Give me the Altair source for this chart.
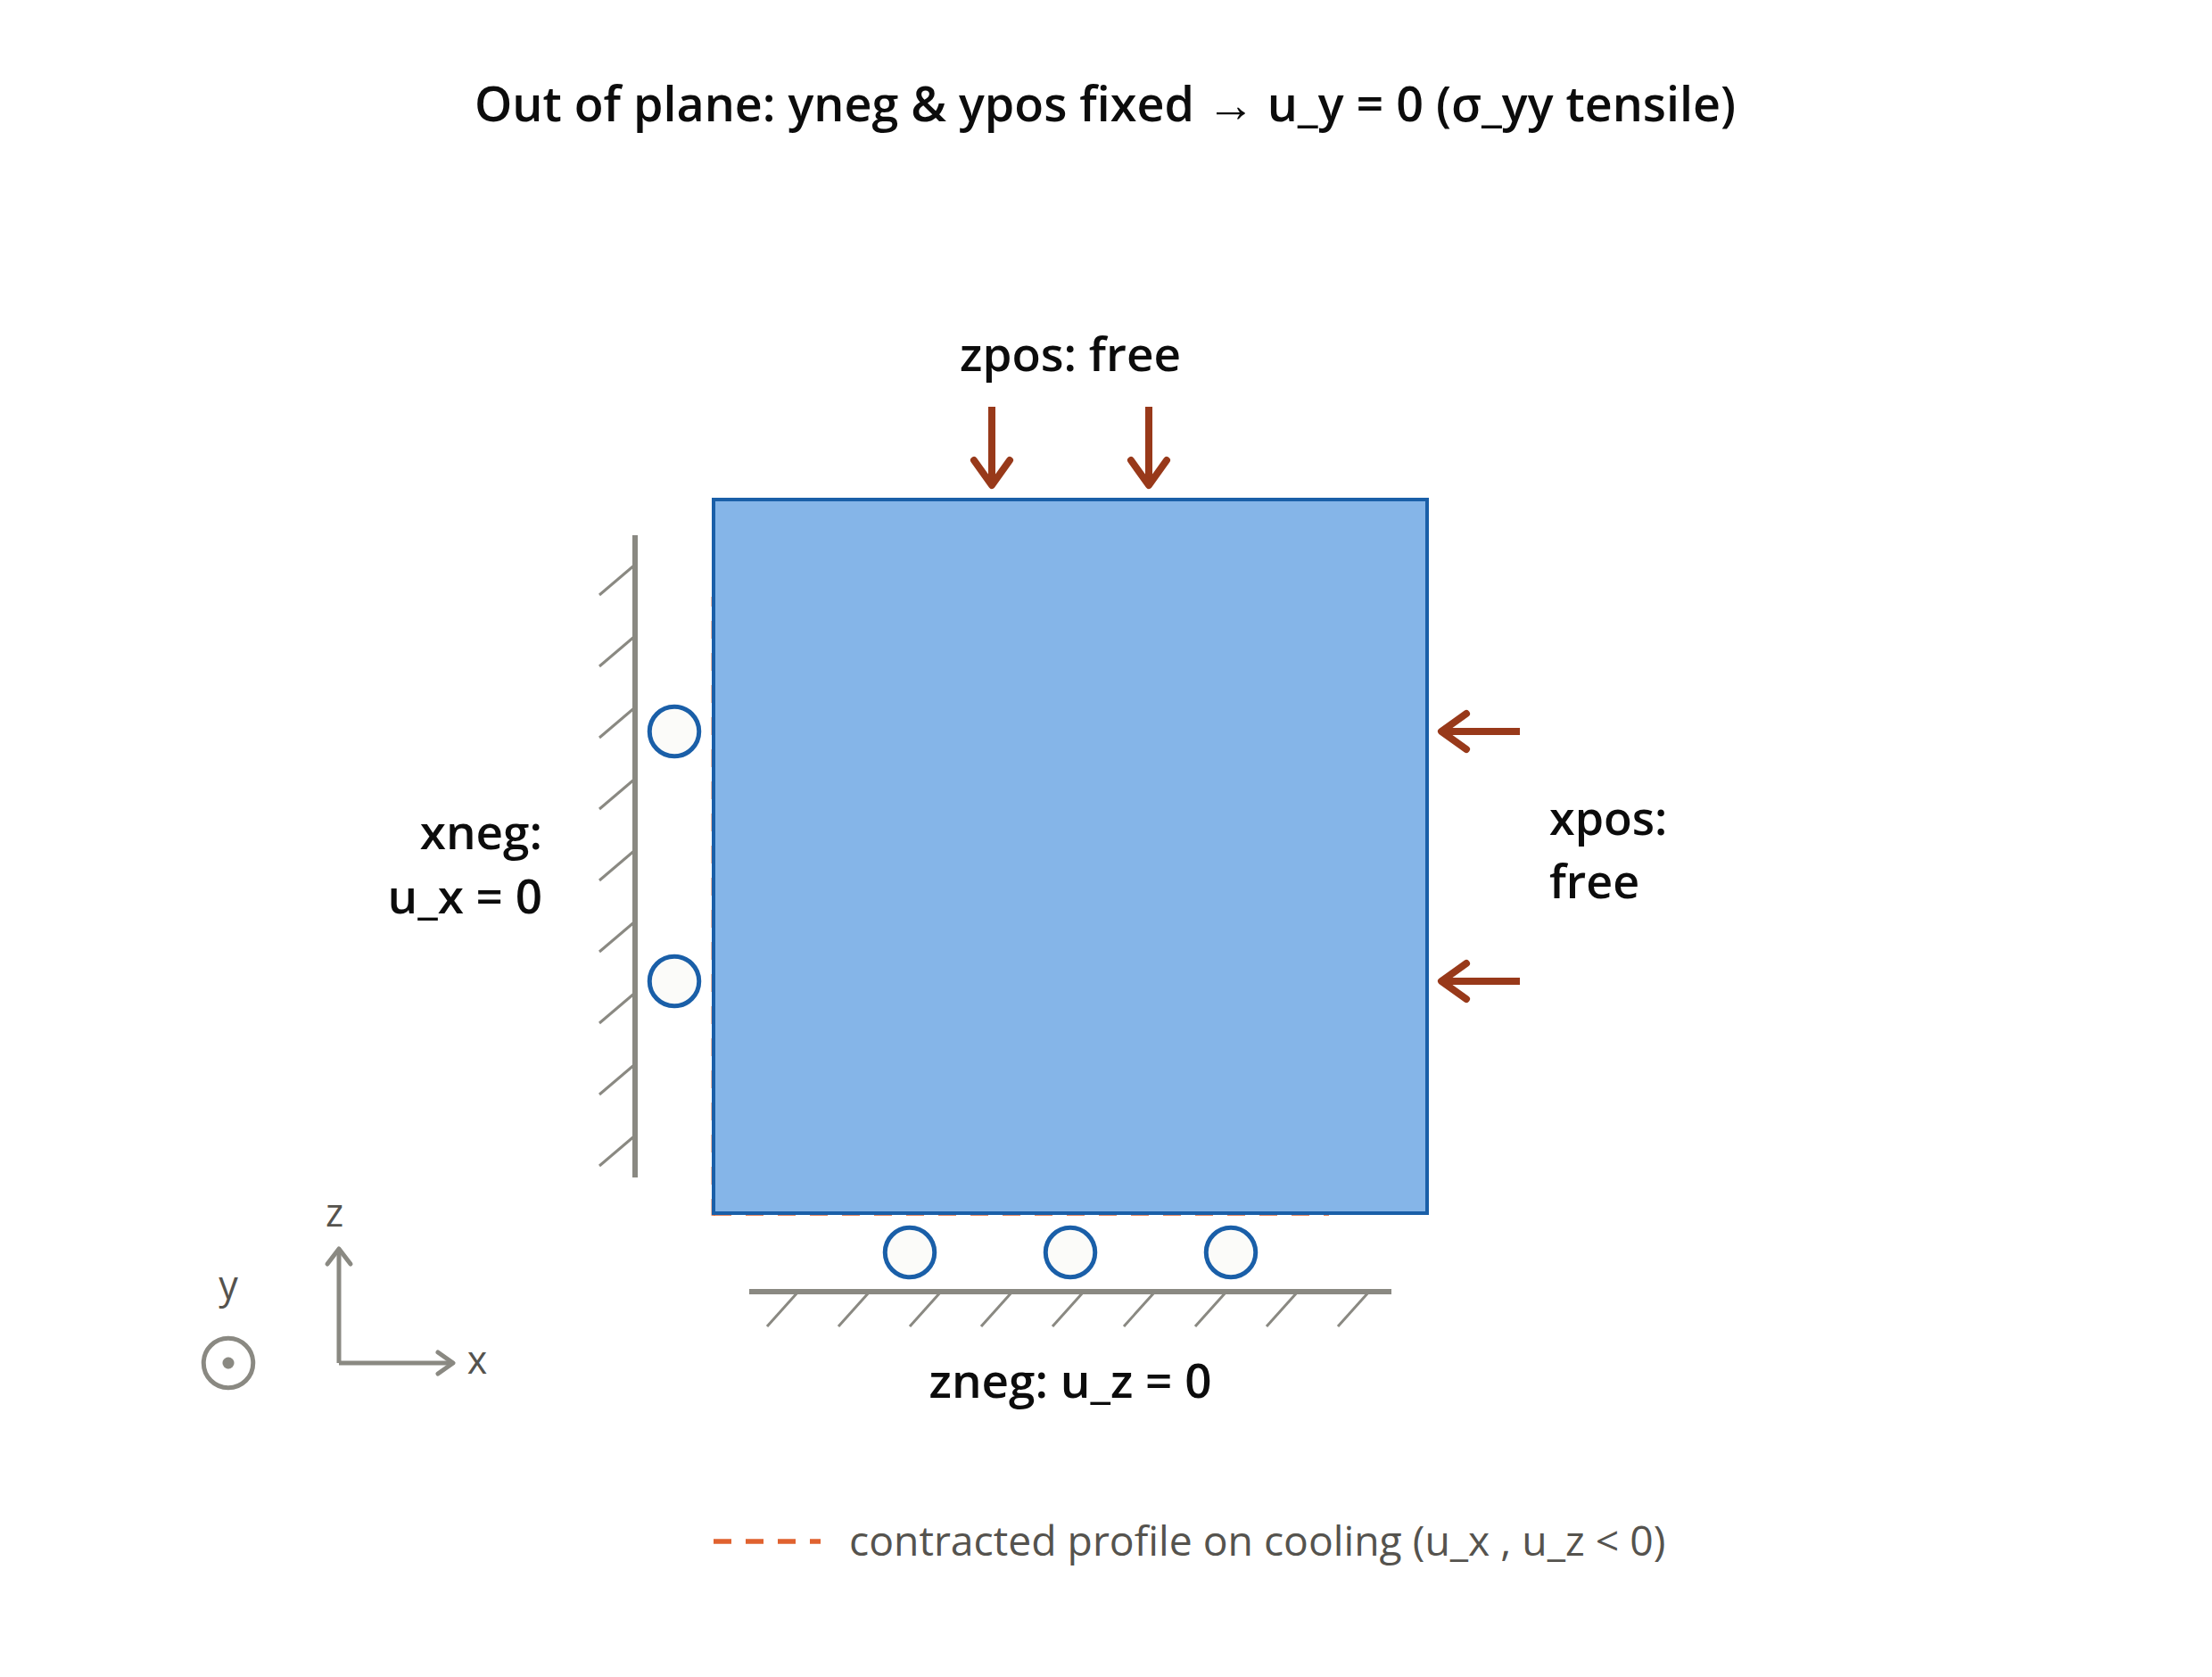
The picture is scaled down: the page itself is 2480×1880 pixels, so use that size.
import altair as alt
import pandas as pd

# Diagram coordinates
block_x = [800, 1600]
block_y = [560, 1360]
wall_left_x = [712]
wall_left_y = [600, 1320]
wall_left_hatch_y = [633, 713, 793, 873, 953, 1033, 1113, 1193, 1273]
wall_bottom_y = [1448]
wall_bottom_x = [840, 1560]
wall_bottom_hatch_x = [895, 975, 1055, 1135, 1215, 1295, 1375, 1455, 1535]
roller_bottom_x = [1020, 1200, 1380]
roller_bottom_y = [1404, 1404, 1404]
roller_left_x = [756, 756]
roller_left_y = [820, 1100]
load_top_x = [1112, 1288]
load_top_y = [456, 544]
load_right_y = [820, 1100]
load_right_x = [1704, 1616]
contour_x = [799.6, 1490]
contour_y = [669, 1362.7]
legend_line_x = [800, 920]
legend_line_y = [1728]

TITLE = "Out of plane: yneg & ypos fixed \u2192 u_y = 0 (\u03c3_yy tensile)"
BOLD_LABELS = ["zpos: free", "zneg: u_z = 0"]
XNEG_LINES = ["xneg:", "u_x = 0"]
XPOS_LINES = ["xpos:", "free"]
LEGEND_TEXT = "contracted profile on cooling (u_x , u_z < 0)"
AXIS_NAMES = ["x", "y", "z"]

GRAY = "#8a8982"
BLUE = "#1a5fa8"
FILL = "#85b5e8"
RED = "#98391a"
DASH = "#e0622f"
INK = "#0c0c0c"
SOFT = "#55534e"
FONT = "Open Sans"

xs = alt.Scale(domain=[8, 2472], nice=False, zero=False)
ys = alt.Scale(domain=[1872, 8], nice=False, zero=False)
X = alt.X("x:Q", scale=xs, axis=None)
Y = alt.Y("y:Q", scale=ys, axis=None)
X2 = alt.X2("x2:Q")
Y2 = alt.Y2("y2:Q")


def segs(rows, color, width, cap="butt", dash=None, offset=None):
    kw = dict(color=color, strokeWidth=width, strokeCap=cap)
    if dash:
        kw["strokeDash"] = dash
    if offset is not None:
        kw["strokeDashOffset"] = offset
    return alt.Chart(pd.DataFrame(rows, columns=["x", "y", "x2", "y2"])).mark_rule(**kw).encode(x=X, y=Y, x2=X2, y2=Y2)


def polys(rows, color, width):
    df = pd.DataFrame(rows, columns=["g", "o", "x", "y"])
    return alt.Chart(df).mark_line(color=color, strokeWidth=width, strokeCap="round", strokeJoin="round").encode(
        x=X, y=Y, detail="g:N", order="o:Q"
    )


def dots(px, py, d, fill, stroke, sw):
    df = pd.DataFrame({"x": px, "y": py})
    return alt.Chart(df).mark_point(shape="circle", size=d * d, filled=False, fill=fill, fillOpacity=1, stroke=stroke,
                                    strokeWidth=sw, opacity=1).encode(x=X, y=Y)


def label(rows, size, color, weight=400, align="center"):
    df = pd.DataFrame(rows, columns=["x", "y", "t"])
    return alt.Chart(df).mark_text(font=FONT, fontSize=size, color=color, fontWeight=weight, align=align,
                                   baseline="alphabetic").encode(x=X, y=Y, text="t:N")


def chevron_down(g, x, tip):
    return [(g, 0, x - 20, tip - 28), (g, 1, x, tip), (g, 2, x + 20, tip - 28)]


def chevron_left(g, tip, y):
    return [(g, 0, tip + 28, y - 20), (g, 1, tip, y), (g, 2, tip + 28, y + 20)]


contour = [
    segs([(contour_x[0], contour_y[1], contour_x[0], contour_y[0])], DASH, 4, dash=[20, 16], offset=1.3),
    segs([(block_x[0], 1360.8, contour_x[1], 1360.8)], DASH, 4, dash=[20, 16]),
]

block_df = pd.DataFrame({"x": [block_x[0]], "x2": [block_x[1]], "y": [block_y[0]], "y2": [block_y[1]]})
block = alt.Chart(block_df).mark_rect(color=FILL, stroke=BLUE, strokeWidth=4).encode(x=X, x2=X2, y=Y, y2=Y2)

walls = [
    segs([(wall_left_x[0], wall_left_y[0], wall_left_x[0], wall_left_y[1]),
          (wall_bottom_x[0], wall_bottom_y[0], wall_bottom_x[1], wall_bottom_y[0])], GRAY, 6),
    segs([(wall_left_x[0], v, wall_left_x[0] - 40, v + 34) for v in wall_left_hatch_y]
         + [(v, wall_bottom_y[0], v - 35, wall_bottom_y[0] + 39) for v in wall_bottom_hatch_x], GRAY, 3),
]

rollers = [
    dots(roller_bottom_x, roller_bottom_y, 55.5, "#fbfbf9", BLUE, 5),
    dots(roller_left_x, roller_left_y, 55.5, "#fbfbf9", BLUE, 5),
]

load_rows = [(x, load_top_y[0], x, load_top_y[1]) for x in load_top_x] + [
    (load_right_x[0], y, load_right_x[1], y) for y in load_right_y
]
loads = [
    segs(load_rows, RED, 8),
    polys(chevron_down("a", load_top_x[0], load_top_y[1]) + chevron_down("b", load_top_x[1], load_top_y[1])
          + chevron_left("c", load_right_x[1], load_right_y[0]) + chevron_left("d", load_right_x[1], load_right_y[1]),
          RED, 8),
]

triad = [
    segs([(380, 1528, 380, 1400), (380, 1528, 508, 1528)], GRAY, 5),
    polys([("u", 0, 367, 1417), ("u", 1, 380, 1400), ("u", 2, 393, 1417),
           ("r", 0, 491, 1516), ("r", 1, 508, 1528), ("r", 2, 491, 1540)], GRAY, 5),
    dots([256], [1528], 55.5, "#ffffff", GRAY, 5),
    dots([256], [1528], 13, GRAY, GRAY, 0.1),
    label([(535, 1540, AXIS_NAMES[0]), (256, 1456, AXIS_NAMES[1]), (375, 1375, AXIS_NAMES[2])], 43, SOFT),
]

legend = [
    segs([(legend_line_x[0], legend_line_y[0], legend_line_x[1], legend_line_y[0])], DASH, 5.7, dash=[20, 16]),
    label([(952, 1744, LEGEND_TEXT)], 46.3, SOFT, align="left"),
]

texts = [
    label([(1239, 136, TITLE)], 53.8, INK, 600),
    label([(1200, 416, BOLD_LABELS[0]), (1200, 1567, BOLD_LABELS[1])], 53, INK, 600),
    label([(608, 952, XNEG_LINES[0]), (608, 1024, XNEG_LINES[1])], 53, INK, 600, "right"),
    label([(1737, 936, XPOS_LINES[0]), (1737, 1007, XPOS_LINES[1])], 52, INK, 600, "left"),
]

chart = alt.layer(*contour, block, *walls, *rollers, *loads, *triad, *legend, *texts).properties(
    width=2464, height=1864, padding=0, autosize=alt.AutoSizeParams(type="none"), background="#ffffff"
).configure_view(stroke=None)

chart.save("out.html", embed_options={"renderer": "svg", "actions": False})
